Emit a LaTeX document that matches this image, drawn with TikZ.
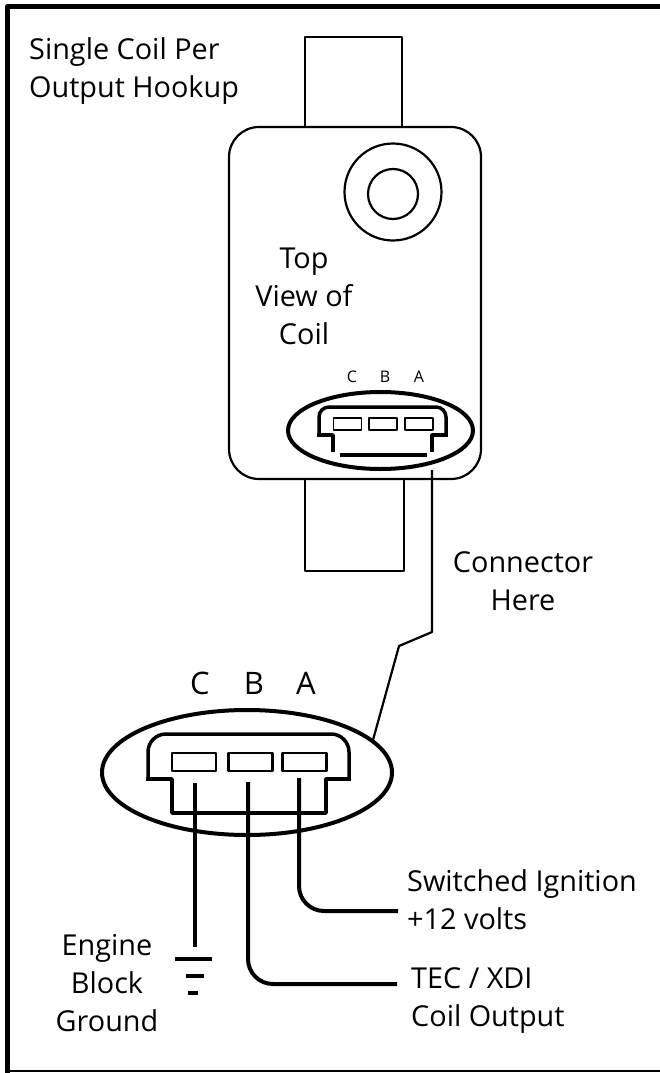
\documentclass[tikz,border=0pt]{standalone}
\usepackage{fontspec}
\setmainfont{Open Sans}
\usetikzlibrary{positioning,shapes.geometric}
\tikzset{
	textlabel/.style={inner sep=0pt,font=\fontsize{28.8}{38}\selectfont,align=center},
	pinlabel/.style={inner sep=0pt,font=\fontsize{31}{34}\selectfont},
	tinylabel/.style={inner sep=0pt,font=\fontsize{16}{18}\selectfont},
	thick line/.style={line width=2.2pt},
	wire/.style={line width=4pt,rounded corners=25pt}
}
\begin{document}
\begin{tikzpicture}[x=1pt,y=-1pt,line join=round]
	\useasboundingbox (0,0) rectangle (660,1073);
	\draw [line width=5.5pt] (7.5,1073) -- (7.5,6.5) -- (660,6.5);
	\draw [line width=2.5pt] (7.5,1071) -- (660,1071);
	% coil body
	\draw [thick line] (305,127) -- (305,37) -- (402,37) -- (402,127);
	\draw [thick line] (305,480) -- (305,571) -- (404,571) -- (404,480);
	\draw [thick line,rounded corners=30pt] (229,127) rectangle (481,479);
	\node [draw,circle,thick line,minimum size=97pt,inner sep=0pt] (collar) at (393,192) {};
	\node [draw,circle,thick line,minimum size=50pt,inner sep=0pt] (post) at (393,194) {};
	\node [textlabel] (view) at (304,296) {Top\\View of\\Coil};
	\node [textlabel,align=left,anchor=west] (title) at (29,71) {Single Coil Per\\Output Hookup};
	% small connector
	\node [draw,ellipse,line width=4pt,minimum width=185pt,minimum height=77pt,inner sep=0pt] (small) at (380.5,430.5) {};
	\foreach \x/\n/\y in {352/C/347.5,385/B/383,419/A/419} {
		\node [tinylabel] (small\n) at (\x,377) {\n};
		\node [draw,line width=1.6pt,minimum width=28pt,minimum height=12pt,inner sep=0pt] (slot\n) at (\y,424) {};
	}
	\draw [line width=3.5pt,rounded corners=10pt] (319,435) -- (319,407) -- (446,407) -- (446,435);
	\draw [line width=3.5pt] (317,435) -- (333,435) -- (333,452);
	\draw [line width=3.5pt] (448,435) -- (432,435) -- (432,452);
	\draw [line width=4pt] (340,455) -- (427,455);
	% large connector
	\node [draw,ellipse,line width=4pt,minimum width=290pt,minimum height=125pt,inner sep=0pt] (big) at (247,772.5) {};
	\foreach \x/\n/\y in {200/C/194,254/B/250.5,306/A/304.5} {
		\node [pinlabel] (big\n) at (\x,683) {\n};
		\node [draw,line width=2.2pt,minimum width=44pt,minimum height=18pt,inner sep=0pt] (box\n) at (\y,762) {};
	}
	\draw [line width=3.5pt,rounded corners=18pt] (148,779) -- (148,734) -- (349,734) -- (349,779);
	\draw [line width=3.5pt] (146,779) -- (172,779) -- (172,813) -- (326,813) -- (326,779) -- (351,779);
	% leader
	\coordinate (bend) at (399,646);
	\coordinate (top) at (432,632);
	\coordinate (start) at (432,470);
	\draw [thick line] (start) -- (top) -- (bend) -- (373,740);
	\node [textlabel] (here) at (523,581) {Connector\\Here};
	% wires
	\draw [line width=4pt] (195,783) -- (195,947);
	\draw [line width=4pt] (175,959) -- (212,959);
	\draw [line width=4pt] (186,976) -- (204,976);
	\draw [line width=4pt] (188,993) -- (198,993);
	\node [textlabel] (ground) at (107,983) {Engine\\Block\\Ground};
	\coordinate (ign) at (398,911);
	\coordinate (tec) at (397,984);
	\draw [wire] (248,782) -- (248,984) -- (tec);
	\draw [wire] (299,778) -- (299,911) -- (ign);
	\node [textlabel,align=left,anchor=west] (ignlabel) at (407,900) {Switched Ignition\\+12 volts};
	\node [textlabel,align=left,anchor=west] (teclabel) at (411,1001) {TEC / XDI\\Coil Output};
\end{tikzpicture}
\end{document}
